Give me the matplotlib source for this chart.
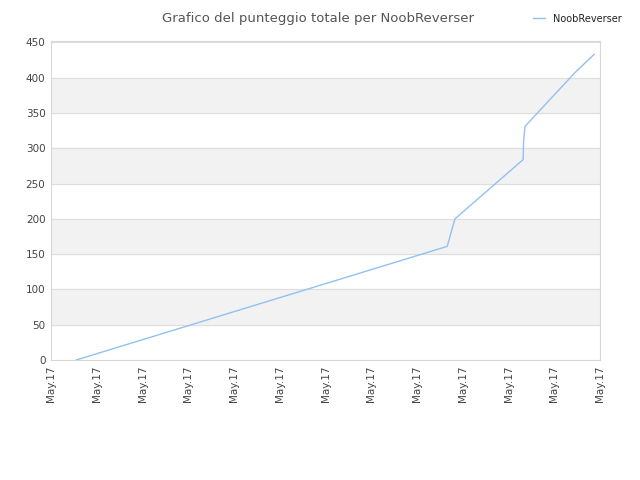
import matplotlib
matplotlib.use('Agg')
import matplotlib.pyplot as plt

# Data
tick_labels = ['May.17'] * 13
x_pos = [0.55, 8.66, 8.83, 10.32, 10.33, 10.36, 11.45, 11.87]
scores = [0, 161, 200, 284, 310, 331, 407, 433]
series_name = 'NoobReverser'

fig = plt.figure(figsize=(6.4, 4.8), dpi=100)
ax = fig.add_axes([0.0797, 0.25, 0.8578, 0.6646])

# alternating background bands (grey on 50-100, 150-200, ...)
for lo in range(50, 450, 100):
    ax.axhspan(lo, lo + 50, color='#f2f2f2', zorder=0)
for y in range(50, 451, 50):
    ax.axhline(y, color='#dedede', lw=0.8, zorder=1)

ax.plot(x_pos, scores, color='#92c1f0', lw=1.0, label=series_name, zorder=3)

ax.set_xlim(0, 12)
ax.set_ylim(0, 452)
ax.set_xticks(range(13))
ax.set_xticklabels(tick_labels, rotation=90, fontsize=7.5, color='#444444')
ax.set_yticks(range(0, 451, 50))
ax.tick_params(axis='y', labelsize=7.5, colors='#444444', length=0, pad=4)
ax.tick_params(axis='x', length=0, pad=4)
for s in ax.spines.values():
    s.set_color('#d8d8d8')

fig.text(0.497, 0.975, 'Grafico del punteggio totale per NoobReverser',
         ha='center', va='top', fontsize=9.5, color='#555555')
fig.legend(loc='upper right', bbox_to_anchor=(0.985, 0.99), frameon=False,
           fontsize=7, handlelength=1.2, labelcolor='#222222')

fig.savefig('out.png', dpi=100)
